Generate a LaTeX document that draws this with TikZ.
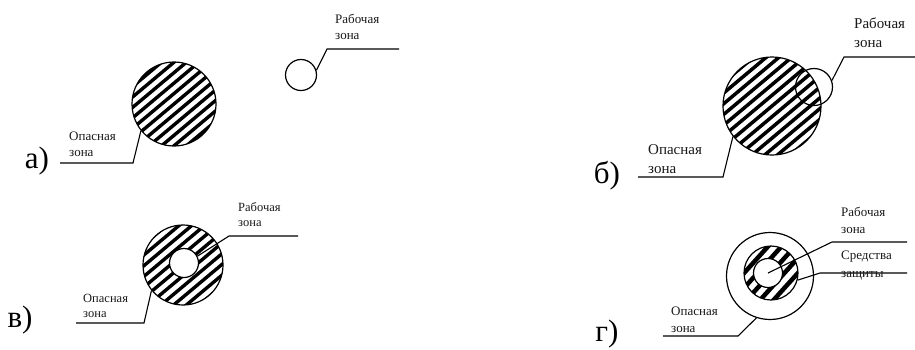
\documentclass[tikz,border=0pt]{standalone}
\usepackage{fontspec}
\setmainfont{Liberation Serif}
\begin{document}
\begin{tikzpicture}[x=1pt,y=-1pt,
  ring/.style={circle,draw,line width=1.2pt,inner sep=0pt},
  leader/.style={line width=1.1pt},
  lbl/.style={align=left,inner sep=0pt,anchor=north west,text=black!90},
  tag/.style={inner sep=0pt,font=\fontsize{31}{33}\selectfont}]
\useasboundingbox (0,0) rectangle (915,349);
\newcommand\hatchdisk[5]{%
  \begin{scope}
    \clip (#1) circle (#2pt);
    \begin{scope}[shift={(#1)},rotate=#5]
      \foreach \k in {-8,...,8} \draw[line width=#4pt] (-70,\k*#3) -- (70,\k*#3);
    \end{scope}
  \end{scope}}
% ---------- a ----------
\coordinate (ac) at (174,104);
\hatchdisk{ac}{42}{8}{3.4}{40}
\node[ring,minimum size=84pt] (A1) at (ac) {};
\node[ring,minimum size=31pt] (A2) at (301,75) {};
\coordinate (a1) at (327,49); \coordinate (a2) at (399,49);
\draw[leader] (A2.17) -- (a1) -- (a2);
\coordinate (a3) at (133,163); \coordinate (a4) at (60,163);
\draw[leader] (A1.219) -- (a3) -- (a4);
\node[lbl,font=\fontsize{13}{16}\selectfont] (aw) at (335,14) {Рабочая\\зона};
\node[lbl,font=\fontsize{13}{16}\selectfont] (ad) at (69,132) {Опасная\\зона};
\node[tag] (ta) at (37,161) {а)};
% ---------- b ----------
\coordinate (bc) at (772,106);
\hatchdisk{bc}{49}{8.2}{3.5}{40}
\node[ring,minimum size=98pt] (B1) at (bc) {};
\node[ring,minimum size=37pt] (B2) at (814,87) {};
\coordinate (b1) at (844,57); \coordinate (b2) at (915,57);
\draw[leader] (B2.20) -- (b1) -- (b2);
\coordinate (b3) at (723,177); \coordinate (b4) at (638,177);
\draw[leader] (B1.218) -- (b3) -- (b4);
\node[lbl,font=\fontsize{15}{19}\selectfont] (bw) at (854,18) {Рабочая\\зона};
\node[lbl,font=\fontsize{15}{19}\selectfont] (bd) at (648,144) {Опасная\\зона};
\node[tag] (tb) at (607,176) {б)};
% ---------- v ----------
\coordinate (cc) at (183,265);
\hatchdisk{cc}{40}{8.2}{3.4}{40}
\node[ring,minimum size=80pt] (C1) at (cc) {};
\node[ring,fill=white,minimum size=29pt] (C2) at (184,263) {};
\coordinate (c1) at (229,236); \coordinate (c2) at (298,236);
\draw[leader] (C2.27) -- (c1) -- (c2);
\coordinate (c3) at (144,323); \coordinate (c4) at (76,323);
\draw[leader] (C1.219) -- (c3) -- (c4);
\node[lbl,font=\fontsize{12.5}{15.5}\selectfont] (cw) at (238,202) {Рабочая\\зона};
\node[lbl,font=\fontsize{12.5}{15.5}\selectfont] (cd) at (83,294) {Опасная\\зона};
\node[tag] (tc) at (20,320) {в)};
% ---------- g ----------
\node[ring,minimum size=87pt] (D1) at (770,276) {};
\coordinate (dc) at (771,273);
\hatchdisk{dc}{27}{10}{4.5}{48}
\node[ring,minimum size=54pt] (D2) at (dc) {};
\node[ring,fill=white,minimum size=29pt] (D3) at (768,273) {};
\coordinate (d1) at (832,242); \coordinate (d2) at (907,242);
\draw[leader] (D3.center) -- (d1) -- (d2);
\coordinate (d5) at (820,273); \coordinate (d6) at (907,273);
\draw[leader] (D2.-15) -- (d5) -- (d6);
\coordinate (d3) at (738,336); \coordinate (d4) at (663,336);
\draw[leader] (D1.252) -- (d3) -- (d4);
\node[lbl,font=\fontsize{13}{17}\selectfont] (dw) at (841,207) {Рабочая\\зона};
\node[lbl,font=\fontsize{13}{18}\selectfont] (ds) at (841,251) {Средства\\защиты};
\node[lbl,font=\fontsize{13}{17}\selectfont] (dd) at (671,307) {Опасная\\зона};
\node[tag] (td) at (607,334) {г)};
\end{tikzpicture}
\end{document}
